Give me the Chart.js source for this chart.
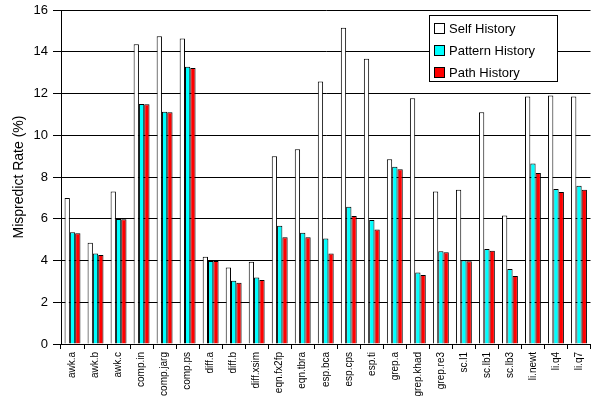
<!DOCTYPE html>
<html>
<head>
<meta charset="utf-8">
<script src="https://cdn.jsdelivr.net/npm/chart.js@4"></script>
<style>
  html, body { margin: 0; padding: 0; background: #fff; }
  #wrap { width: 594px; height: 400px; }
</style>
</head>
<body>
<div id="wrap"><canvas id="myChart" width="594" height="400"></canvas></div>
<script>
const benchmarks = ["awk.a", "awk.b", "awk.c", "comp.in", "comp.jarg", "comp.ps", "diff.a", "diff.b",
  "diff.xsim", "eqn.fx2fp", "eqn.tbra", "esp.bca", "esp.cps", "esp.ti", "grep.a", "grep.khad",
  "grep.re3", "sc.l1", "sc.lb1", "sc.lb3", "li.newt", "li.q4", "li.q7"];

const selfHistory = [7.0, 4.85, 7.3, 14.36, 14.74, 14.63, 4.18, 3.67, 3.94, 9.0, 9.33, 12.58,
  15.15, 13.67, 8.85, 11.77, 7.31, 7.39, 11.1, 6.16, 11.86, 11.91, 11.86];
const patternHistory = [5.35, 4.34, 5.99, 11.5, 11.13, 13.28, 3.98, 3.03, 3.19, 5.67, 5.33, 5.05,
  6.58, 5.94, 8.49, 3.43, 4.44, 4.01, 4.55, 3.59, 8.65, 7.43, 7.58];
const pathHistory = [5.3, 4.26, 5.98, 11.48, 11.1, 13.22, 3.98, 2.94, 3.07, 5.11, 5.11, 4.34,
  6.13, 5.49, 8.37, 3.31, 4.39, 3.96, 4.47, 3.26, 8.19, 7.28, 7.39];

const yTicks = [0, 2, 4, 6, 8, 10, 12, 14, 16];

const FONT = "'Liberation Sans', Arial, sans-serif";

// legend box drawn on top of the plot, like the original
const boxLegend = {
  id: "boxLegend",
  afterDraw(chart) {
    const ctx = chart.ctx;
    const x = 429, y = 15, w = 128, h = 66;
    ctx.save();
    ctx.fillStyle = "#fff";
    ctx.fillRect(x, y, w, h);
    ctx.strokeStyle = "#000";
    ctx.lineWidth = 1;
    ctx.strokeRect(x + 0.5, y + 0.5, w, h);
    ctx.font = "13px " + FONT;
    ctx.textBaseline = "middle";
    chart.data.datasets.forEach((ds, i) => {
      const cy = y + 13 + i * 22;
      ctx.fillStyle = ds.backgroundColor;
      ctx.fillRect(x + 5, cy - 5, 10, 11);
      ctx.strokeStyle = "#000";
      ctx.strokeRect(x + 5.5, cy - 4.5, 10, 10);
      ctx.fillStyle = "#000";
      ctx.fillText(ds.label, x + 20, cy + 1);
    });
    ctx.restore();
  }
};

new Chart(document.getElementById("myChart"), {
  type: "bar",
  data: {
    labels: benchmarks,
    datasets: [
      { label: "Self History", data: selfHistory, backgroundColor: "#ffffff", borderColor: "#000", borderWidth: 1 },
      { label: "Pattern History", data: patternHistory, backgroundColor: "#00ffff", borderColor: "#000", borderWidth: 1 },
      { label: "Path History", data: pathHistory, backgroundColor: "#ff0000", borderColor: "#000", borderWidth: 1 }
    ]
  },
  options: {
    responsive: false,
    animation: false,
    layout: { padding: { top: 10, right: 0, left: 0, bottom: 0 } },
    plugins: {
      legend: { display: false },
      tooltip: { enabled: false }
    },
    datasets: {
      bar: { categoryPercentage: 0.69, barPercentage: 1.0 }
    },
    scales: {
      x: {
        offset: true,
        grid: { display: true, drawOnChartArea: false, offset: true, color: "#000", tickLength: 5 },
        border: { color: "#000" },
        ticks: {
          autoSkip: false,
          minRotation: 90,
          maxRotation: 90,
          color: "#000",
          padding: 3,
          font: { family: FONT, size: 10 }
        },
        afterFit(scale) { scale.height = 56; }
      },
      y: {
        min: 0,
        max: 16,
        afterBuildTicks(scale) { scale.ticks = yTicks.map(v => ({ value: v })); },
        grid: { color: "#000", tickLength: 8 },
        border: { color: "#000" },
        ticks: {
          color: "#000",
          padding: 5,
          font: { family: FONT, size: 13 }
        },
        title: {
          display: true,
          text: "Mispredict Rate (%)",
          color: "#000",
          padding: { top: 11, bottom: 0 },
          font: { family: FONT, size: 14 }
        },
        afterFit(scale) {
          scale.width = 61;
          scale.paddingTop = 0;
          scale.paddingBottom = 0;
        }
      }
    }
  },
  plugins: [boxLegend]
});
</script>
</body>
</html>
